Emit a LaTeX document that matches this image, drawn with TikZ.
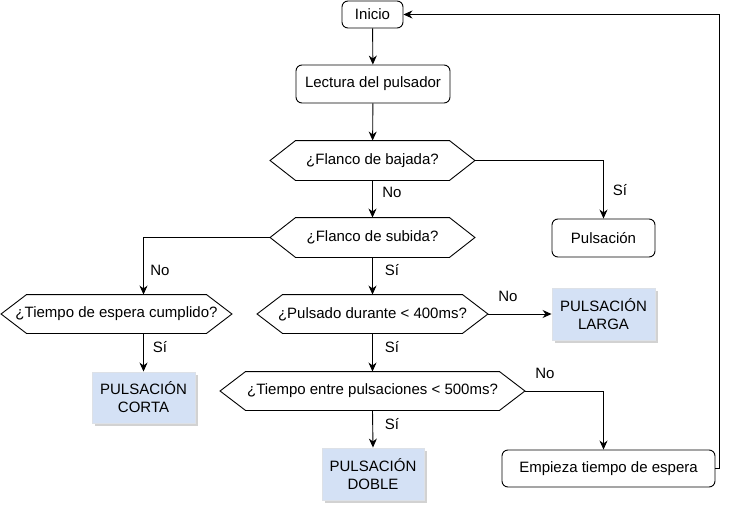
\documentclass[tikz,border=0pt]{standalone}
\usepackage{fontspec}
\setmainfont{Liberation Sans}
\usetikzlibrary{arrows.meta,shadows}
\definecolor{azulcaja}{HTML}{D4E1F5}
\def\hexagono(#1){\draw ([xshift=0.5pt]#1.west) -- ([xshift=26pt]#1.north west) -- ([xshift=-26pt]#1.north east) -- ([xshift=-0.5pt]#1.east) -- ([xshift=-26pt]#1.south east) -- ([xshift=26pt]#1.south west) -- cycle;}
\tikzset{
	paso/.style={draw, rounded corners=6pt, inner sep=0pt},
	decision/.style={inner sep=0pt},
	resultado/.style={fill=azulcaja, draw=azulcaja!80!black!40, inner sep=0pt, align=center, drop shadow={shadow xshift=2.5pt, shadow yshift=-2.5pt, fill=black!35}},
	etiqueta/.style={inner sep=0pt},
	flecha/.style={-{Stealth[length=9pt,width=8pt]}},
}

\begin{document}
\begin{tikzpicture}[x=1pt, y=-1pt, line width=0.9pt, font=\fontsize{15}{18}\selectfont]
		%%%%% START %%%%%
		\useasboundingbox (0,0) rectangle (731,506);
		
		\node[paso, minimum width=61pt, minimum height=27pt] (inicio) at (372.5,14.5) {Inicio};
		\node[paso, minimum width=154pt, minimum height=38pt] (lectura) at (373,84) {Lectura del pulsador};
		\node[decision, minimum width=205pt, minimum height=39pt] (bajada) at (372.5,160.5) {¿Flanco de bajada?};
		\node[paso, minimum width=103pt, minimum height=38pt] (pulsacion) at (603.5,238) {Pulsación};
		\node[decision, minimum width=205pt, minimum height=39pt] (subida) at (372.5,237.5) {¿Flanco de subida?};
		\node[decision, minimum width=231pt, minimum height=38pt] (espera) at (116.5,314) {¿Tiempo de espera cumplido?};
		\node[resultado, minimum width=103pt, minimum height=51pt] (corta) at (143.5,397.5) {PULSACIÓN\\CORTA};
		\node[decision, minimum width=231pt, minimum height=38pt] (pulsado) at (372.5,314) {¿Pulsado durante < 400ms?};
		\node[resultado, minimum width=103pt, minimum height=52pt] (larga) at (603.5,314) {PULSACIÓN\\LARGA};
		\node[decision, minimum width=305pt, minimum height=38pt] (entre) at (372.5,391) {¿Tiempo entre pulsaciones < 500ms?};
		\node[resultado, minimum width=102pt, minimum height=52pt] (doble) at (373,474) {PULSACIÓN\\DOBLE};
		\node[paso, minimum width=213pt, minimum height=37pt] (empieza) at (608.5,468.5) {Empieza tiempo de espera};
		
		\hexagono(bajada)
		\hexagono(subida)
		\hexagono(espera)
		\hexagono(pulsado)
		\hexagono(entre)
		
		\coordinate (vuelta) at (719,14.5);
		
		\draw[flecha] (inicio) -- (lectura);
		\draw[flecha] (lectura) -- (bajada);
		\draw[flecha] (bajada.east) -| (pulsacion.north);
		\draw[flecha] (bajada.south) -- (subida.north);
		\draw[flecha] (subida.west) -| (corta.north |- espera.north);
		\draw[flecha] (corta.north |- espera.south) -- (corta.north);
		\draw[flecha] (subida.south) -- (pulsado.north);
		\draw[flecha] (pulsado.east) -- (larga.west);
		\draw[flecha] (pulsado.south) -- (entre.north);
		\draw[flecha] (entre.south) -- (doble.north);
		\draw[flecha] (entre.east) -| (pulsacion |- empieza.north);
		\draw[flecha] (empieza.east) -- (empieza.east -| vuelta) -- (vuelta) -- (inicio.east);
		
		\node[etiqueta] (noBajada) at (392,192) {No};
		\node[etiqueta] (siBajada) at (620,190) {Sí};
		\node[etiqueta] (noSubida) at (160,270) {No};
		\node[etiqueta] (siSubida) at (392,270) {Sí};
		\node[etiqueta] (siEspera) at (160,347) {Sí};
		\node[etiqueta] (siPulsado) at (392,347) {Sí};
		\node[etiqueta] (noPulsado) at (508,296) {No};
		\node[etiqueta] (siEntre) at (392,424) {Sí};
		\node[etiqueta] (noEntre) at (545,373) {No};
		%%%%% END %%%%%
	\end{tikzpicture}
\end{document}
